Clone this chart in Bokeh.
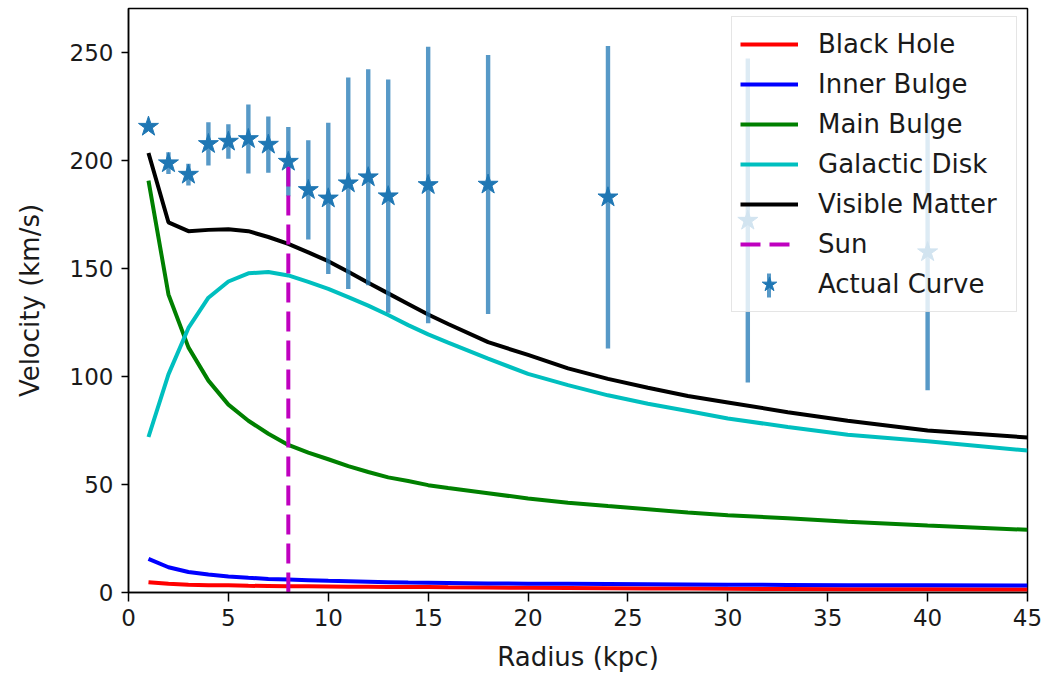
import numpy as np
from bokeh.plotting import figure
from bokeh.models import Range1d, FixedTicker, Legend, LegendItem, ColumnDataSource
from bokeh.core.properties import value
from bokeh.embed import file_html
from bokeh.resources import INLINE

# Model rotation curves of the Milky Way components (km/s) vs radius (kpc)
radius = [1, 2, 3, 4, 5, 6, 7, 8, 9, 10, 11, 12, 13, 14, 15, 16, 18, 20, 22, 24,
          26, 28, 30, 33, 36, 40, 45]
v_black_hole = [4.8, 4.0, 3.6, 3.4, 3.3, 3.1, 3.0, 2.9, 2.9, 2.8, 2.7, 2.7, 2.6, 2.5,
                2.5, 2.4, 2.3, 2.2, 2.1, 2.0, 1.9, 1.8, 1.7, 1.6, 1.5, 1.5, 1.4]
v_inner_bulge = [15.6, 11.7, 9.5, 8.3, 7.4, 6.8, 6.3, 6.0, 5.7, 5.4, 5.2, 5.0, 4.8, 4.6,
                 4.5, 4.4, 4.2, 4.1, 4.0, 3.9, 3.8, 3.7, 3.6, 3.5, 3.4, 3.3, 3.2]
v_main_bulge = [190.7, 138.0, 113.5, 98.1, 87.0, 79.5, 73.5, 68.3, 64.8, 61.7, 58.5, 55.8,
                53.3, 51.6, 49.7, 48.4, 46.0, 43.5, 41.6, 40.0, 38.5, 37.0, 35.8, 34.4,
                32.8, 31.0, 29.0]
v_disk = [72.0, 101.0, 122.5, 136.5, 144.0, 147.8, 148.4, 146.8, 143.8, 140.6, 136.8,
          132.8, 128.5, 123.8, 119.5, 115.7, 108.3, 101.2, 96.0, 91.3, 87.4, 84.0, 80.6,
          76.6, 73.0, 70.0, 65.7]
v_visible = [203.5, 171.4, 167.3, 167.9, 168.2, 167.3, 164.6, 161.4, 157.5, 153.4, 148.5,
             143.4, 138.5, 133.6, 128.7, 124.3, 115.9, 110.0, 103.8, 98.9, 94.8, 91.0,
             88.0, 83.5, 79.5, 75.0, 71.8]

# Measured rotation curve with uncertainties
obs_radius = [1, 2, 3, 4, 5, 6, 7, 8, 9, 10, 11, 12, 13, 15, 18, 24, 31, 40]
obs_velocity = [215.7, 198.8, 193.5, 207.7, 208.8, 210.0, 207.4, 199.5, 186.4, 182.5,
                189.5, 192.3, 183.5, 188.7, 188.9, 183.0, 172.2, 157.6]
obs_error = [0, 5, 5, 10, 8, 16, 13, 16, 23, 35, 49, 50, 54, 64, 60, 70, 75, 64]

# Position of the Sun
sun_radius = 8.0
sun_velocity = 200.0

x_ticks = [0, 5, 10, 15, 20, 25, 30, 35, 40, 45]
y_ticks = [0, 50, 100, 150, 200, 250]

FONT = "DejaVu Sans"
STAR_BLUE = "#1f77b4"

p = figure(width=1048, height=674, output_backend="svg", toolbar_location=None,
           x_range=Range1d(0, 45), y_range=Range1d(0, 270.4),
           min_border_left=128, min_border_right=21, min_border_top=8,
           min_border_bottom=82, background_fill_color="white",
           border_fill_color="white")
p.grid.visible = False
p.outline_line_color = "black"
p.outline_line_width = 1.5

curves = ColumnDataSource(dict(r=radius, bh=v_black_hole, ib=v_inner_bulge,
                               mb=v_main_bulge, gd=v_disk, vm=v_visible))
lw = 4
r_bh = p.line("r", "bh", source=curves, line_color="#ff0000", line_width=lw)
r_ib = p.line("r", "ib", source=curves, line_color="#0000ff", line_width=lw)
r_mb = p.line("r", "mb", source=curves, line_color="#008000", line_width=lw)
r_gd = p.line("r", "gd", source=curves, line_color="#00bfbf", line_width=lw)
r_vm = p.line("r", "vm", source=curves, line_color="#000000", line_width=lw)

obs = ColumnDataSource(dict(
    r=obs_radius, v=obs_velocity,
    lo=[v - e for v, e in zip(obs_velocity, obs_error)],
    hi=[v + e for v, e in zip(obs_velocity, obs_error)]))
r_err = p.vbar(x="r", bottom="lo", top="hi", width=0.22, source=obs,
               fill_color=STAR_BLUE, fill_alpha=0.75, line_color=None)

r_sun = p.segment(x0=[sun_radius], y0=[0], x1=[sun_radius], y1=[sun_velocity],
                  line_color="#bf00bf", line_width=lw, line_dash="20 9")

r_star = p.scatter("r", "v", source=obs, marker="star", size=21,
                   fill_color=STAR_BLUE, line_color=STAR_BLUE, line_width=1)

for ax in (p.xaxis[0], p.yaxis[0]):
    ax.axis_line_color = "black"
    ax.axis_line_width = 1.5
    ax.major_tick_line_color = "black"
    ax.major_tick_line_width = 1.5
    ax.major_tick_in = 0
    ax.minor_tick_line_color = None
    ax.major_label_text_font = FONT
    ax.major_label_text_font_size = "23px"
    ax.major_label_text_color = "#1a1a1a"
    ax.axis_label_text_font = FONT
    ax.axis_label_text_font_size = "26px"
    ax.axis_label_text_font_style = "normal"
    ax.axis_label_text_color = "#1a1a1a"

p.xaxis.ticker = FixedTicker(ticks=x_ticks)
p.yaxis.ticker = FixedTicker(ticks=y_ticks)
p.xaxis.axis_label = "Radius (kpc)"
p.yaxis.axis_label = "Velocity (km/s)"
p.xaxis.major_tick_out = 9
p.yaxis.major_tick_out = 7
p.xaxis.major_label_standoff = 7
p.yaxis.major_label_standoff = 8
p.xaxis.axis_label_standoff = 13
p.yaxis.axis_label_standoff = 22

legend = Legend(
    items=[LegendItem(label=value("Black Hole"), renderers=[r_bh]),
           LegendItem(label=value("Inner Bulge"), renderers=[r_ib]),
           LegendItem(label=value("Main Bulge"), renderers=[r_mb]),
           LegendItem(label=value("Galactic Disk"), renderers=[r_gd]),
           LegendItem(label=value("Visible Matter"), renderers=[r_vm]),
           LegendItem(label=value("Sun"), renderers=[r_sun]),
           LegendItem(label=value("Actual Curve"), renderers=[r_star])],
    location=(603, 280), margin=0, padding=8, spacing=2,
    glyph_width=58, glyph_height=38, label_height=38, label_width=190,
    label_standoff=20, label_text_font=FONT, label_text_font_size="26px",
    label_text_color="#1a1a1a", border_line_color="#cccccc", border_line_width=1.5,
    background_fill_color="white", background_fill_alpha=0.8)
p.add_layout(legend)

# vertical error-bar mark drawn through the star of the "Actual Curve" key
bar_key = Legend(
    items=[LegendItem(label=value(" "), renderers=[r_err])],
    location=(637.5, 292), margin=0, padding=0, spacing=0,
    glyph_width=5, glyph_height=30, label_height=30, label_width=0,
    label_standoff=0, label_text_font_size="1px",
    border_line_alpha=0, background_fill_alpha=0)
p.add_layout(bar_key)

open("out.html", "w").write(file_html(p, INLINE))
